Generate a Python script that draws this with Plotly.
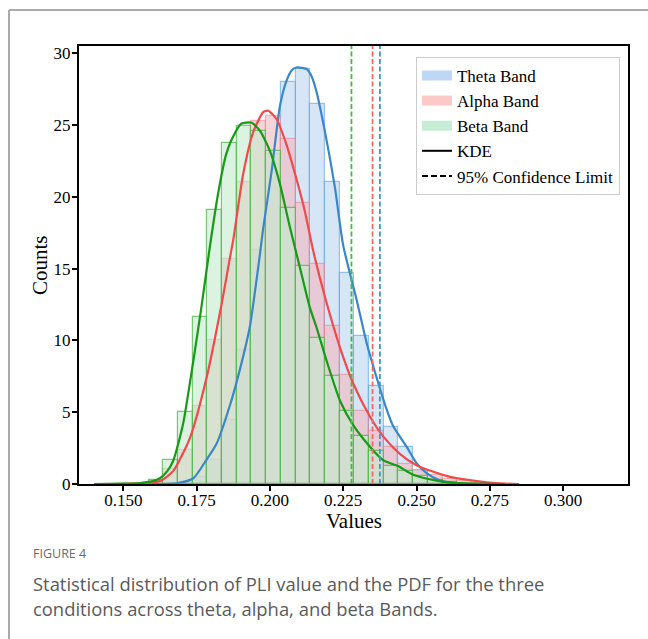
import plotly.graph_objects as go

# ---------------- data ----------------
bin_start = 0.15861
bin_width = 0.005012

theta_counts = [0, 0, 0.1, 0.46, 1.67, 4.46, 9.3, 16.3, 23.0, 27.96, 28.9, 26.45, 21.0,
                14.7, 10.3, 6.8, 4.0, 2.55, 0.9, 0.3, 0, 0, 0]
alpha_counts = [0.1, 1.05, 2.37, 5.46, 10.0, 15.7, 21.0, 25.3, 25.6, 24.0, 19.6, 15.3, 10.97,
                7.6, 5.1, 3.7, 2.55, 1.4, 1.0, 0.6, 0.35, 0.2, 0.1]
beta_counts = [0.28, 1.67, 5.0, 11.6, 19.1, 23.75, 24.96, 24.6, 23.2, 19.2, 15.15, 10.2, 7.55,
               5.06, 3.35, 2.3, 1.28, 0.9, 0.55, 0.3, 0.15, 0, 0]

theta_kde_x = [0.160, 0.1682, 0.1739, 0.1784, 0.1818, 0.1864, 0.1898, 0.1932, 0.1949, 0.1966,
               0.1977, 0.2006, 0.2034, 0.2057, 0.2074, 0.2091, 0.2125, 0.2142, 0.2159, 0.2188,
               0.2222, 0.2250, 0.2296, 0.2330, 0.2364, 0.2398, 0.2421, 0.2443, 0.2466, 0.2500,
               0.2534, 0.2579, 0.2630, 0.2700]
theta_kde_y = [0.0, 0.05, 0.4, 1.7, 2.8, 5.5, 8.0, 11.0, 13.4, 16.0,
               17.8, 21.8, 26.3, 28.1, 28.8, 29.0, 28.9, 28.4, 27.3, 24.5,
               20.6, 16.6, 12.8, 9.8, 7.4, 5.2, 4.0, 3.3, 2.6, 1.45,
               0.75, 0.25, 0.05, 0.0]

alpha_kde_x = [0.145, 0.155, 0.1625, 0.1670, 0.1727, 0.1784, 0.1835, 0.1864, 0.1875, 0.1909,
               0.1943, 0.1977, 0.1994, 0.2023, 0.2057, 0.2091, 0.2119, 0.2148, 0.2188, 0.2239,
               0.2284, 0.2341, 0.2387, 0.2443, 0.2500, 0.2557, 0.2614, 0.2670, 0.2739, 0.2800,
               0.2850]
alpha_kde_y = [0.0, 0.05, 0.2, 0.9, 3.2, 7.4, 12.5, 15.8, 17.0, 21.6,
               24.5, 25.9, 26.0, 25.4, 23.6, 21.2, 19.0, 16.2, 13.0, 9.5,
               7.0, 4.7, 3.3, 2.1, 1.3, 0.85, 0.5, 0.3, 0.12, 0.03,
               0.0]

beta_kde_x = [0.140, 0.150, 0.1557, 0.1600, 0.1625, 0.1650, 0.1670, 0.1704, 0.1739, 0.1767,
              0.1795, 0.1824, 0.1850, 0.1870, 0.1903, 0.1938, 0.1966, 0.2000, 0.2034, 0.2068,
              0.2102, 0.2136, 0.2159, 0.2193, 0.2239, 0.2284, 0.2341, 0.2387, 0.2437, 0.2483,
              0.2540, 0.2608, 0.2700, 0.2800]
beta_kde_y = [0.0, 0.02, 0.06, 0.2, 0.4, 0.9, 1.6, 4.2, 8.6, 12.4,
              16.5, 20.3, 22.9, 24.0, 25.1, 25.15, 24.6, 23.2, 20.9, 17.9,
              15.1, 12.3, 10.9, 8.6, 5.8, 4.1, 2.6, 1.65, 1.25, 0.7,
              0.35, 0.11, 0.02, 0.0]

band_names = ["Theta Band", "Alpha Band", "Beta Band"]
conf_limits = [0.2375, 0.2350, 0.2278]   # theta, alpha, beta

x_ticks = [0.150, 0.175, 0.200, 0.225, 0.250, 0.275, 0.300]
y_ticks = [0, 5, 10, 15, 20, 25, 30]

# ---------------- styles ----------------
line_colors = ["#3a87c8", "#f04a4a", "#179a17"]
fill_colors = ["rgba(187,213,242,0.6)", "rgba(241,183,190,0.6)", "rgba(197,235,205,0.6)"]
edge_colors = ["rgba(90,160,225,0.6)", "rgba(235,120,130,0.5)", "rgba(70,180,70,0.7)"]
vline_colors = ["#3d95d8", "#f06a6a", "#3cbf3c"]
legend_patch = ["#bdd7f4", "#fcc8c8", "#c6ecd6"]
SERIF = "Liberation Serif"

fig = go.Figure()

counts_all = [theta_counts, alpha_counts, beta_counts]
n = len(theta_counts)
centers = [bin_start + (i + 0.5) * bin_width for i in range(n)]

for i, counts in enumerate(counts_all):
    fig.add_trace(go.Bar(
        x=centers, y=counts, width=[bin_width] * n,
        marker=dict(color=fill_colors[i], line=dict(color=edge_colors[i], width=1.2)),
        showlegend=False, hoverinfo="skip"))

kdes = [(theta_kde_x, theta_kde_y), (alpha_kde_x, alpha_kde_y), (beta_kde_x, beta_kde_y)]
for i, (kx, ky) in enumerate(kdes):
    fig.add_trace(go.Scatter(
        x=kx, y=ky, mode="lines",
        line=dict(color=line_colors[i], width=2.2, shape="spline", smoothing=0.6),
        showlegend=False, hoverinfo="skip"))

for i, v in enumerate(conf_limits):
    fig.add_shape(type="line", xref="x", yref="paper", x0=v, x1=v, y0=0, y1=1,
                  line=dict(color=vline_colors[i], width=1.8, dash="5px,2.5px"), layer="above")

# legend entries
for i, name in enumerate(band_names):
    fig.add_trace(go.Scatter(x=[None], y=[None], mode="lines", name=name,
                             line=dict(color=legend_patch[i], width=13)))
fig.add_trace(go.Scatter(x=[None], y=[None], mode="lines", name="KDE",
                         line=dict(color="black", width=2)))
fig.add_trace(go.Scatter(x=[None], y=[None], mode="lines", name="95% Confidence Limit",
                         line=dict(color="black", width=2, dash="6px,3px")))

axis_common = dict(
    showline=True, linewidth=2, linecolor="black", mirror=True,
    ticks="outside", ticklen=5, tickwidth=1.5, tickcolor="black",
    showgrid=False, zeroline=False,
    tickfont=dict(family=SERIF, size=17, color="black"),
)

fig.update_layout(
    width=648, height=639,
    margin=dict(l=79, r=20, t=46, b=155),
    paper_bgcolor="white", plot_bgcolor="white",
    template="none",
    barmode="overlay", bargap=0,
    font=dict(family=SERIF, color="black"),
    xaxis=dict(range=[0.1349, 0.3221], tickvals=x_ticks, tickformat=".3f",
               ticklabelstandoff=-5, **axis_common),
    yaxis=dict(range=[0, 30.5], tickvals=y_ticks, ticklabelstandoff=-2, **axis_common),
    legend=dict(x=0.9854, xanchor="right", y=0.975, yanchor="top",
                bgcolor="white", bordercolor="#cccccc", borderwidth=1,
                font=dict(family=SERIF, size=17, color="black"),
                tracegroupgap=0),
)


def px_x(p):
    return (p - 79) / 549.0


def px_y(p):
    return (484 - p) / 438.0


# axis titles
fig.add_annotation(xref="paper", yref="paper", x=px_x(353.5), y=px_y(521), xanchor="center", yanchor="middle",
                   text="Values", showarrow=False, font=dict(family=SERIF, size=21, color="black"))
fig.add_annotation(xref="paper", yref="paper", x=px_x(40), y=px_y(265), xanchor="center", yanchor="middle",
                   text="Counts", textangle=-90, showarrow=False, font=dict(family=SERIF, size=21, color="black"))

# page frame lines (left and top)
fig.add_shape(type="line", xref="paper", yref="paper", x0=px_x(9), x1=px_x(9), y0=px_y(10), y1=px_y(640),
              line=dict(color="#aaaaaa", width=2))
fig.add_shape(type="line", xref="paper", yref="paper", x0=px_x(9), x1=px_x(648), y0=px_y(10), y1=px_y(10),
              line=dict(color="#aaaaaa", width=2))

CAP = "Open Sans"
fig.add_annotation(xref="paper", yref="paper", x=px_x(31), y=px_y(553), xanchor="left", yanchor="middle",
                   text="FIGURE 4", showarrow=False, font=dict(family=CAP, size=12.5, color="#6b6b6b"))
fig.add_annotation(xref="paper", yref="paper", x=px_x(31), y=px_y(583), xanchor="left", yanchor="middle",
                   text="Statistical distribution of PLI value and the PDF for the three",
                   showarrow=False, font=dict(family=CAP, size=18.4, color="#5a5a5a"))
fig.add_annotation(xref="paper", yref="paper", x=px_x(31), y=px_y(608), xanchor="left", yanchor="middle",
                   text="conditions across theta, alpha, and beta Bands.",
                   showarrow=False, font=dict(family=CAP, size=18.4, color="#5a5a5a"))

fig.write_html("out.html")
